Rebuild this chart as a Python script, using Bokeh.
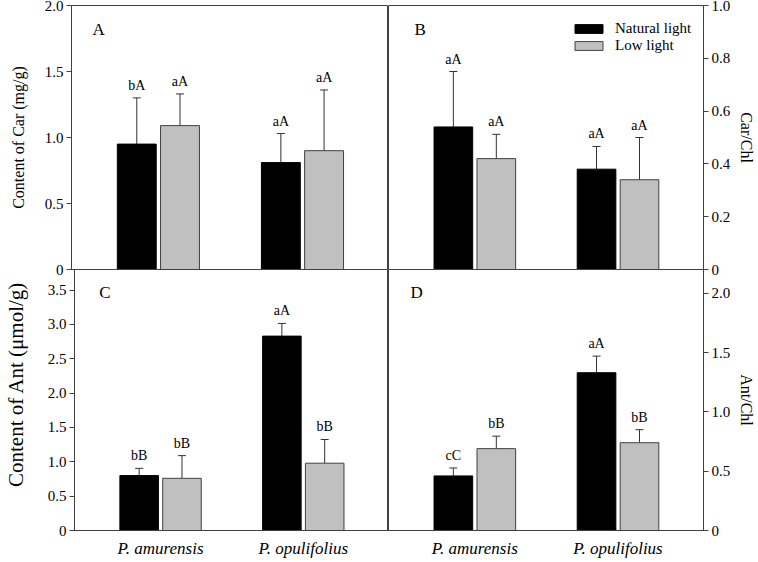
from bokeh.plotting import figure
from bokeh.models import (Range1d, FixedTicker, Whisker, TeeHead, ColumnDataSource,
                          Legend, LegendItem)
from bokeh.layouts import row, column
from bokeh.core.properties import value
from bokeh.embed import file_html
from bokeh.resources import INLINE

# ---------------- data ----------------
species = ["P. amurensis", "P. opulifolius"]
groups = [1, 2]
series = ["Natural light", "Low light"]

car_nat = [0.95, 0.81]
car_nat_err = [0.35, 0.22]
car_low = [1.09, 0.90]
car_low_err = [0.24, 0.46]
car_nat_lbl = ["bA", "aA"]
car_low_lbl = ["aA", "aA"]

carchl_nat = [0.54, 0.38]
carchl_nat_err = [0.21, 0.086]
carchl_low = [0.42, 0.34]
carchl_low_err = [0.092, 0.16]
carchl_nat_lbl = ["aA", "aA"]
carchl_low_lbl = ["aA", "aA"]

ant_nat = [0.80, 2.83]
ant_nat_err = [0.105, 0.185]
ant_low = [0.76, 0.98]
ant_low_err = [0.33, 0.345]
ant_nat_lbl = ["bB", "aA"]
ant_low_lbl = ["bB", "bB"]

antchl_nat = [0.46, 1.33]
antchl_nat_err = [0.067, 0.14]
antchl_low = [0.69, 0.74]
antchl_low_err = [0.105, 0.11]
antchl_nat_lbl = ["cC", "aA"]
antchl_low_lbl = ["bB", "bB"]

car_ticks = [0, 0.5, 1.0, 1.5, 2.0]
car_tick_labels = ["0", "0.5", "1.0", "1.5", "2.0"]
carchl_ticks = [0, 0.2, 0.4, 0.6, 0.8, 1.0]
carchl_tick_labels = ["0", "0.2", "0.4", "0.6", "0.8", "1.0"]
ant_ticks = [0, 0.5, 1.0, 1.5, 2.0, 2.5, 3.0, 3.5]
ant_tick_labels = ["0", "0.5", "1.0", "1.5", "2.0", "2.5", "3.0", "3.5"]
antchl_ticks = [0, 0.5, 1.0, 1.5, 2.0]
antchl_tick_labels = ["0", "0.5", "1.0", "1.5", "2.0"]

# ---------------- style ----------------
FONT = "Liberation Serif"
AX = "#404040"
ERR = "#333333"
GRAY = "#c0c0c0"
BAR_W = 0.27
OFF = 0.15
X_RANGE = (0.397, 2.597)

LEFT_W, RIGHT_W = 388, 370
MB_LEFT, MB_RIGHT = 71, 55
TOP_H, TOP_MB_TOP, TOP_MB_BOTTOM = 278, 5, 9
BOT_H, BOT_MB_BOTTOM = 292, 31
NBSP = "\u00a0"


def panel(letter, nat, nat_err, low, low_err, nat_lbl, low_lbl, ymax, ticks, tlabels,
          ylabel, ylabel_size, ylabel_standoff, side, bottom_row, letter_dx, letter_dy):
    w = LEFT_W if side == "left" else RIGHT_W
    h = BOT_H if bottom_row else TOP_H
    mbt = 0 if bottom_row else TOP_MB_TOP
    mbb = BOT_MB_BOTTOM if bottom_row else TOP_MB_BOTTOM
    fw = w - (MB_LEFT if side == "left" else MB_RIGHT)
    fh = h - mbt - mbb
    p = figure(width=w, height=h, output_backend="svg", toolbar_location=None,
               x_range=Range1d(*X_RANGE), y_range=Range1d(0, ymax),
               y_axis_location=side,
               x_axis_location="below" if bottom_row else None,
               min_border_left=MB_LEFT if side == "left" else 0,
               min_border_right=0 if side == "left" else MB_RIGHT,
               min_border_top=mbt, min_border_bottom=mbb)
    p.xgrid.visible = False
    p.ygrid.visible = False
    p.outline_line_color = AX
    p.outline_line_width = 1
    p.background_fill_color = "white"
    if bottom_row:
        p.border_fill_alpha = 0
        p.margin = (-TOP_MB_BOTTOM, 0, 0, 0)
    else:
        p.border_fill_color = "white"

    ya = p.yaxis[0]
    ya.ticker = FixedTicker(ticks=ticks)
    ya.major_label_overrides = {float(t): l for t, l in zip(ticks, tlabels)}
    ya.minor_tick_line_color = None
    ya.major_tick_in = 0
    ya.major_tick_out = 5
    ya.major_tick_line_color = AX
    ya.axis_line_color = AX
    ya.major_label_standoff = 3
    ya.major_label_text_font = FONT
    ya.major_label_text_font_size = "15px"
    ya.major_label_text_color = "black"
    ya.axis_label = ylabel
    ya.axis_label_text_font = FONT
    ya.axis_label_text_font_style = "normal"
    ya.axis_label_text_font_size = ylabel_size
    ya.axis_label_text_color = "black"
    ya.axis_label_standoff = ylabel_standoff

    if bottom_row:
        xa = p.xaxis[0]
        xa.ticker = FixedTicker(ticks=groups)
        xa.major_label_overrides = {float(g): s for g, s in zip(groups, species)}
        xa.major_tick_line_color = None
        xa.minor_tick_line_color = None
        xa.axis_line_color = AX
        xa.major_label_standoff = 2
        xa.major_label_text_font = FONT
        xa.major_label_text_font_style = "italic"
        xa.major_label_text_font_size = "17px"
        xa.major_label_text_color = "black"

    items = []
    for vals, errs, lbls, sign, fill, line, name in [
        (nat, nat_err, nat_lbl, -1, "black", "black", series[0]),
        (low, low_err, low_lbl, 1, GRAY, AX, series[1]),
    ]:
        src = ColumnDataSource(dict(
            x=[g + sign * OFF for g in groups],
            top=vals,
            upper=[v + e for v, e in zip(vals, errs)],
            lbl=lbls,
        ))
        r = p.vbar(x="x", top="top", bottom=0, width=BAR_W, source=src,
                   fill_color=fill, line_color=line, line_width=1)
        items.append(LegendItem(label=name, renderers=[r]))
        wh = Whisker(source=src, base="x", upper="upper", lower="top",
                     dimension="height", line_color=ERR, line_width=1,
                     upper_head=TeeHead(size=8, line_color=ERR, line_width=1),
                     lower_head=None)
        p.add_layout(wh)
        p.text(x="x", y="upper", text="lbl", source=src,
               text_font=value(FONT), text_font_size="14px", text_color="black",
               text_align="center", text_baseline="bottom", y_offset=-5)

    # panel letter, placed in data space from a pixel inset
    xspan = X_RANGE[1] - X_RANGE[0]
    lx = X_RANGE[0] + letter_dx / fw * xspan
    ly = ymax * (1 - letter_dy / fh)
    p.text(x=[lx], y=[ly], text=[letter], text_font=value(FONT), text_font_size="17px",
           text_color="black", text_baseline="top", text_align="left")
    return p, items, fw, fh


pA, _, _, _ = panel("A", car_nat, car_nat_err, car_low, car_low_err, car_nat_lbl,
                    car_low_lbl, 2.0, car_ticks, car_tick_labels, "Content of Car (mg/g)",
                    "16px", 15, "left", False, 21, 14)
pB, itemsB, fwB, fhB = panel("B", carchl_nat, carchl_nat_err, carchl_low, carchl_low_err,
                             carchl_nat_lbl, carchl_low_lbl, 1.0, carchl_ticks,
                             carchl_tick_labels, "Car/Chl", "16px", 5, "right", False, 26, 14)
# leading no-break spaces lift the title a little above the panel centre, as in the original
pC, _, _, _ = panel("C", ant_nat, ant_nat_err, ant_low, ant_low_err, ant_nat_lbl,
                    ant_low_lbl, 3.8, ant_ticks, ant_tick_labels,
                    NBSP * 6 + "Content of Ant (μmol/g)", "21px", 17,
                    "left", True, 25, 13)
pD, _, _, _ = panel("D", antchl_nat, antchl_nat_err, antchl_low, antchl_low_err,
                    antchl_nat_lbl, antchl_low_lbl, 2.2, antchl_ticks, antchl_tick_labels,
                    "Ant/Chl", "16px", 5, "right", True, 22, 13)

legend = Legend(items=itemsB, location=(183, fhB - 49), orientation="vertical",
                glyph_width=35, glyph_height=11, label_height=11,
                label_standoff=9, spacing=-1, padding=0, margin=0,
                label_text_font=FONT, label_text_font_size="15px",
                label_text_color="black",
                border_line_alpha=0, background_fill_alpha=0)
pB.add_layout(legend)

layout = column(row(pA, pB), row(pC, pD))

open("out.html", "w").write(file_html(layout, INLINE))
